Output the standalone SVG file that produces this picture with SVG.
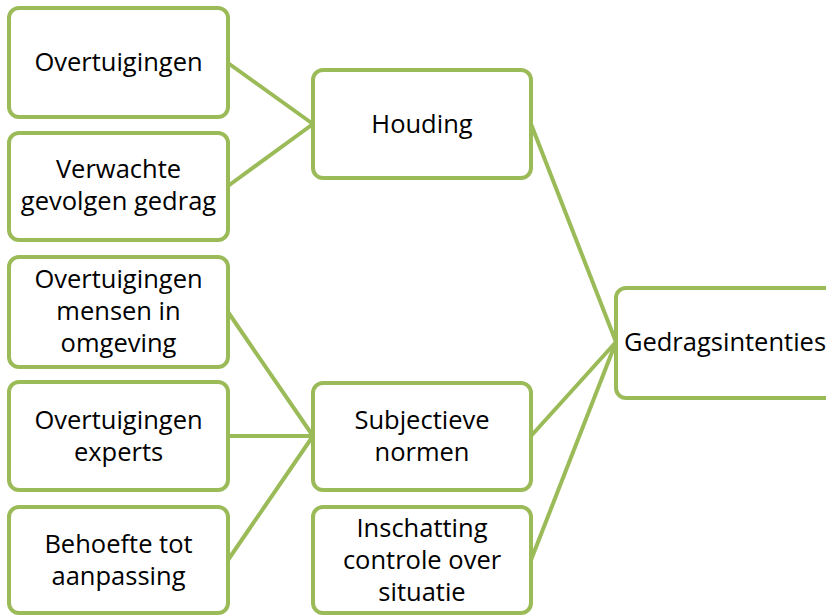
<svg xmlns="http://www.w3.org/2000/svg" width="826" height="616" viewBox="0 0 826 616">
<style>
.box{fill:#fff;stroke:#9BBB59;stroke-width:4}
.lbl{font-family:"Open Sans","Liberation Sans",sans-serif;font-size:25.5px;fill:#000;text-anchor:middle}
.con{stroke:#9BBB59;stroke-width:4;fill:none}
</style>
<rect width="826" height="616" fill="#fff"/>
<g id="connectors">
<line class="con" x1="228" y1="63" x2="313" y2="124"/>
<line class="con" x1="228" y1="186" x2="313" y2="124"/>
<line class="con" x1="228" y1="312" x2="313" y2="436"/>
<line class="con" x1="228" y1="436" x2="313" y2="436"/>
<line class="con" x1="228" y1="560" x2="313" y2="436"/>
<line class="con" x1="531" y1="124" x2="616" y2="342"/>
<line class="con" x1="531" y1="436" x2="616" y2="342"/>
<line class="con" x1="531" y1="560" x2="616" y2="342"/>
</g>
<g id="n1"><rect class="box" x="9" y="8" width="219" height="109" rx="10"/><text class="lbl" x="118.5" y="71">Overtuigingen</text></g>
<g id="n2"><rect class="box" x="9" y="133" width="219" height="107" rx="10"/><text class="lbl" x="118.5" y="178">Verwachte</text><text class="lbl" x="118.5" y="210">gevolgen gedrag</text></g>
<g id="n3"><rect class="box" x="9" y="257" width="219" height="110" rx="10"/><text class="lbl" x="118.5" y="288">Overtuigingen</text><text class="lbl" x="118.5" y="320">mensen in</text><text class="lbl" x="118.5" y="352">omgeving</text></g>
<g id="n4"><rect class="box" x="9" y="382" width="219" height="108" rx="10"/><text class="lbl" x="118.5" y="429">Overtuigingen</text><text class="lbl" x="118.5" y="461">experts</text></g>
<g id="n5"><rect class="box" x="9" y="507" width="219" height="106" rx="10"/><text class="lbl" x="118.5" y="553">Behoefte tot</text><text class="lbl" x="118.5" y="585">aanpassing</text></g>
<g id="n6"><rect class="box" x="313" y="70" width="218" height="108" rx="10"/><text class="lbl" x="422" y="133">Houding</text></g>
<g id="n7"><rect class="box" x="313" y="383" width="218" height="107" rx="10"/><text class="lbl" x="422" y="429">Subjectieve</text><text class="lbl" x="422" y="461">normen</text></g>
<g id="n8"><rect class="box" x="313" y="507" width="218" height="106" rx="10"/><text class="lbl" x="422" y="537">Inschatting</text><text class="lbl" x="422" y="569">controle over</text><text class="lbl" x="422" y="601">situatie</text></g>
<g id="n9"><rect class="box" x="616" y="288" width="240" height="110" rx="10"/><text class="lbl" x="725" y="351">Gedragsintenties</text></g>
</svg>
